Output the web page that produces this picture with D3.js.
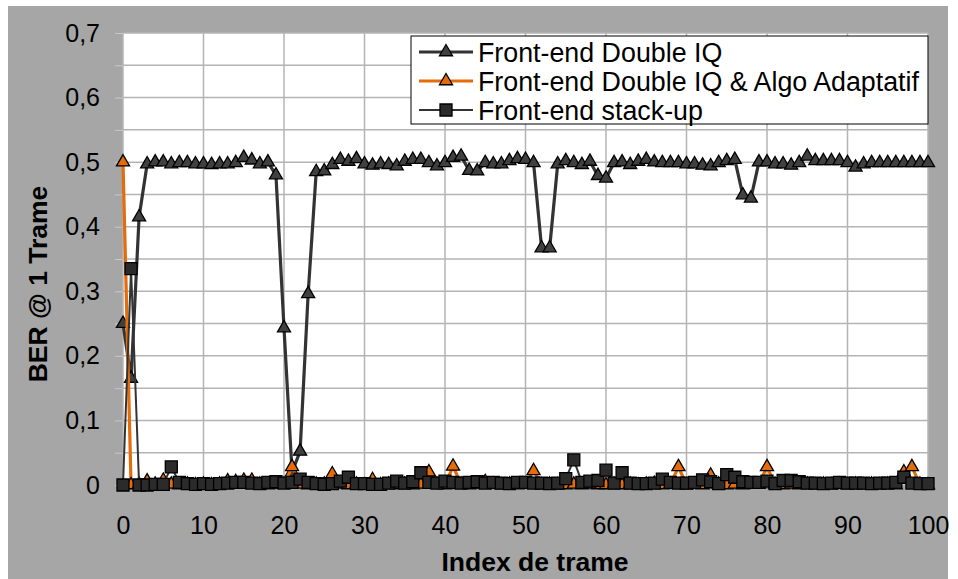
<!DOCTYPE html>
<html><head><meta charset="utf-8">
<script src="https://cdn.jsdelivr.net/npm/d3@7/dist/d3.min.js"></script>
<style>body{margin:0;background:#fff}svg{display:block}text{font-family:"Liberation Sans",Arial,sans-serif}</style>
</head><body><svg id="c" width="958" height="579"></svg>
<script>
const seriesNames = ["Front-end Double IQ","Front-end Double IQ & Algo Adaptatif","Front-end stack-up"];
const frameIndex = d3.range(0, 101);
const doubleIQ = [0.25,0.165,0.415,0.497,0.5,0.5,0.497,0.499,0.499,0.497,
0.497,0.496,0.497,0.497,0.499,0.507,0.503,0.497,0.5,0.48,
0.243,0.02,0.052,0.296,0.485,0.486,0.496,0.504,0.501,0.505,
0.497,0.495,0.497,0.496,0.494,0.501,0.504,0.504,0.499,0.494,
0.499,0.507,0.509,0.487,0.486,0.499,0.497,0.497,0.502,0.505,
0.504,0.499,0.367,0.367,0.497,0.502,0.499,0.496,0.501,0.479,
0.475,0.499,0.5,0.496,0.501,0.504,0.5,0.499,0.499,0.499,
0.497,0.497,0.495,0.494,0.499,0.502,0.504,0.449,0.444,0.5,
0.5,0.497,0.497,0.495,0.499,0.509,0.502,0.502,0.502,0.502,
0.499,0.492,0.497,0.499,0.499,0.499,0.499,0.499,0.499,0.499,0.499];
const doubleIQAdapt = [0.5,0,0.001,0.006,0.001,0.007,0.001,0,0.001,0,
0.001,0,0.001,0.006,0.005,0.007,0.007,0.001,0,0.001,
0.001,0.028,0.001,0,0.001,0.001,0.017,0.001,0,0.001,
0,0.008,0,0.001,0,0.001,0,0.001,0.02,0.001,
0,0.029,0.001,0,0.001,0.005,0.001,0,0.001,0,
0.001,0.022,0,0.001,0,0,0.001,0,0.001,0,
0,0.001,0,0.001,0,0.001,0.002,0,0.001,0.028,
0,0.001,0,0.015,0.001,0,0.001,0,0.001,0.001,
0.028,0.001,0,0.001,0,0.001,0,0.001,0,0.001,
0,0.001,0,0.001,0,0.001,0,0.02,0.028,0.001,0];
const stackUp = [0,0.335,0,0,0.001,0.001,0.028,0.004,0.002,0.001,
0.002,0.001,0.002,0.003,0.004,0.004,0.003,0.002,0.004,0.005,
0.003,0.004,0.009,0.004,0.002,0.001,0.002,0.006,0.012,0.002,
0.002,0.001,0.001,0.003,0.006,0.003,0.005,0.019,0.004,0.003,
0.006,0.004,0.003,0.004,0.005,0.003,0.004,0.003,0.002,0.004,
0.004,0.003,0.003,0.002,0.003,0.01,0.039,0.004,0.006,0.007,
0.023,0.003,0.019,0.003,0.002,0.002,0.003,0.009,0.004,0.003,
0.003,0.004,0.008,0.005,0.002,0.016,0.012,0.005,0.004,0.004,
0.006,0.002,0.007,0.007,0.005,0.003,0.003,0.002,0.003,0.004,
0.003,0.003,0.003,0.002,0.003,0.003,0.004,0.012,0.003,0.002,0.002];
const xTickValues = [0,10,20,30,40,50,60,70,80,90,100];
const yTickValues = [0,0.05,0.1,0.15,0.2,0.25,0.3,0.35,0.4,0.45,0.5,0.55,0.6,0.65,0.7];
const yTickLabels = ["0","","0,1","","0,2","","0,3","","0,4","","0,5","","0,6","","0,7"];
const xTitle = "Index de trame";
const yTitle = "BER @ 1 Trame";

const svg = d3.select("#c");
const P = {l:123, r:928, t:33, b:485};
const x = d3.scaleLinear().domain([0,100]).range([P.l,P.r]);
const y = d3.scaleLinear().domain([0,0.7]).range([P.b,P.t]);

svg.append("rect").attr("x",0).attr("y",0).attr("width",958).attr("height",579).attr("fill","#fff");
svg.append("rect").attr("x",8).attr("y",6).attr("width",940).attr("height",573).attr("fill","#a6a6a6");
svg.append("rect").attr("x",P.l).attr("y",P.t).attr("width",P.r-P.l).attr("height",P.b-P.t).attr("fill","#fff");

svg.append("g").selectAll("line").data(yTickValues).join("line")
  .attr("x1",P.l).attr("x2",P.r).attr("y1",d=>y(d)).attr("y2",d=>y(d))
  .attr("stroke","#b4b4b4").attr("stroke-width",1.5);
svg.append("g").selectAll("line").data(xTickValues).join("line")
  .attr("y1",P.t).attr("y2",P.b).attr("x1",d=>x(d)).attr("x2",d=>x(d))
  .attr("stroke","#b4b4b4").attr("stroke-width",1.5);

const yAxis = svg.append("g").attr("transform",`translate(${P.l},0)`)
  .call(d3.axisLeft(y).tickValues(yTickValues).tickSize(8).tickPadding(15)
    .tickFormat((d,i)=>yTickLabels[i]));
yAxis.select(".domain").remove();
yAxis.selectAll("line").attr("stroke","#c8c8c8").attr("stroke-width",1);
yAxis.selectAll("text").attr("font-size",25).attr("fill","#000").attr("font-family","Liberation Sans, Arial, sans-serif");

const xAxis = svg.append("g").attr("transform",`translate(0,${P.b})`)
  .call(d3.axisBottom(x).tickValues(xTickValues).tickSize(0).tickPadding(31).tickFormat(d3.format("d")));
xAxis.select(".domain").remove();
xAxis.selectAll("text").attr("font-size",25).attr("fill","#000").attr("font-family","Liberation Sans, Arial, sans-serif");

svg.append("text").attr("x",535).attr("y",571).attr("text-anchor","middle")
  .attr("font-size",26.5).attr("font-weight","bold").text(xTitle);
svg.append("text").attr("transform","translate(47,284) rotate(-90)").attr("text-anchor","middle")
  .attr("font-size",26.5).attr("font-weight","bold").text(yTitle);

const tri = d3.symbol().type(d3.symbolTriangle).size(74);
const sq = d3.symbol().type(d3.symbolSquare).size(144);
const styles = [
  {data:doubleIQ, line:"#333333", lw:3.2, sym:tri, fill:"#404040"},
  {data:doubleIQAdapt, line:"#e46c0a", lw:3.2, sym:tri, fill:"#e46c0a"},
  {data:stackUp, line:"#333333", lw:2, sym:sq, fill:"#2b2b2b"}
];
const line = d3.line().x((d,i)=>x(frameIndex[i])).y(d=>y(d));
styles.forEach(s=>{
  const g = svg.append("g");
  g.append("path").attr("d",line(s.data)).attr("fill","none").attr("stroke",s.line)
    .attr("stroke-width",s.lw).attr("stroke-linejoin","round");
  g.selectAll("path.m").data(s.data).join("path").attr("class","m")
    .attr("transform",(d,i)=>`translate(${x(frameIndex[i])},${y(d)})`)
    .attr("d",s.sym()).attr("fill",s.fill).attr("stroke","#000").attr("stroke-width",1.3);
});

const L = {x:411, y:36, w:517, h:88};
const lg = svg.append("g");
lg.append("rect").attr("x",L.x).attr("y",L.y).attr("width",L.w).attr("height",L.h)
  .attr("fill","#fff").attr("stroke","#000").attr("stroke-width",1);
styles.forEach((s,i)=>{
  const cy = 52 + i*29;
  lg.append("line").attr("x1",419).attr("x2",473).attr("y1",cy).attr("y2",cy)
    .attr("stroke",s.line).attr("stroke-width",s.lw);
  lg.append("path").attr("transform",`translate(446,${cy})`).attr("d",s.sym())
    .attr("fill",s.fill).attr("stroke","#000").attr("stroke-width",1.3);
  lg.append("text").attr("x",478).attr("y",cy).attr("dy","0.36em").attr("font-size",26.8)
    .attr("fill","#000").text(seriesNames[i]);
});
</script></body></html>
